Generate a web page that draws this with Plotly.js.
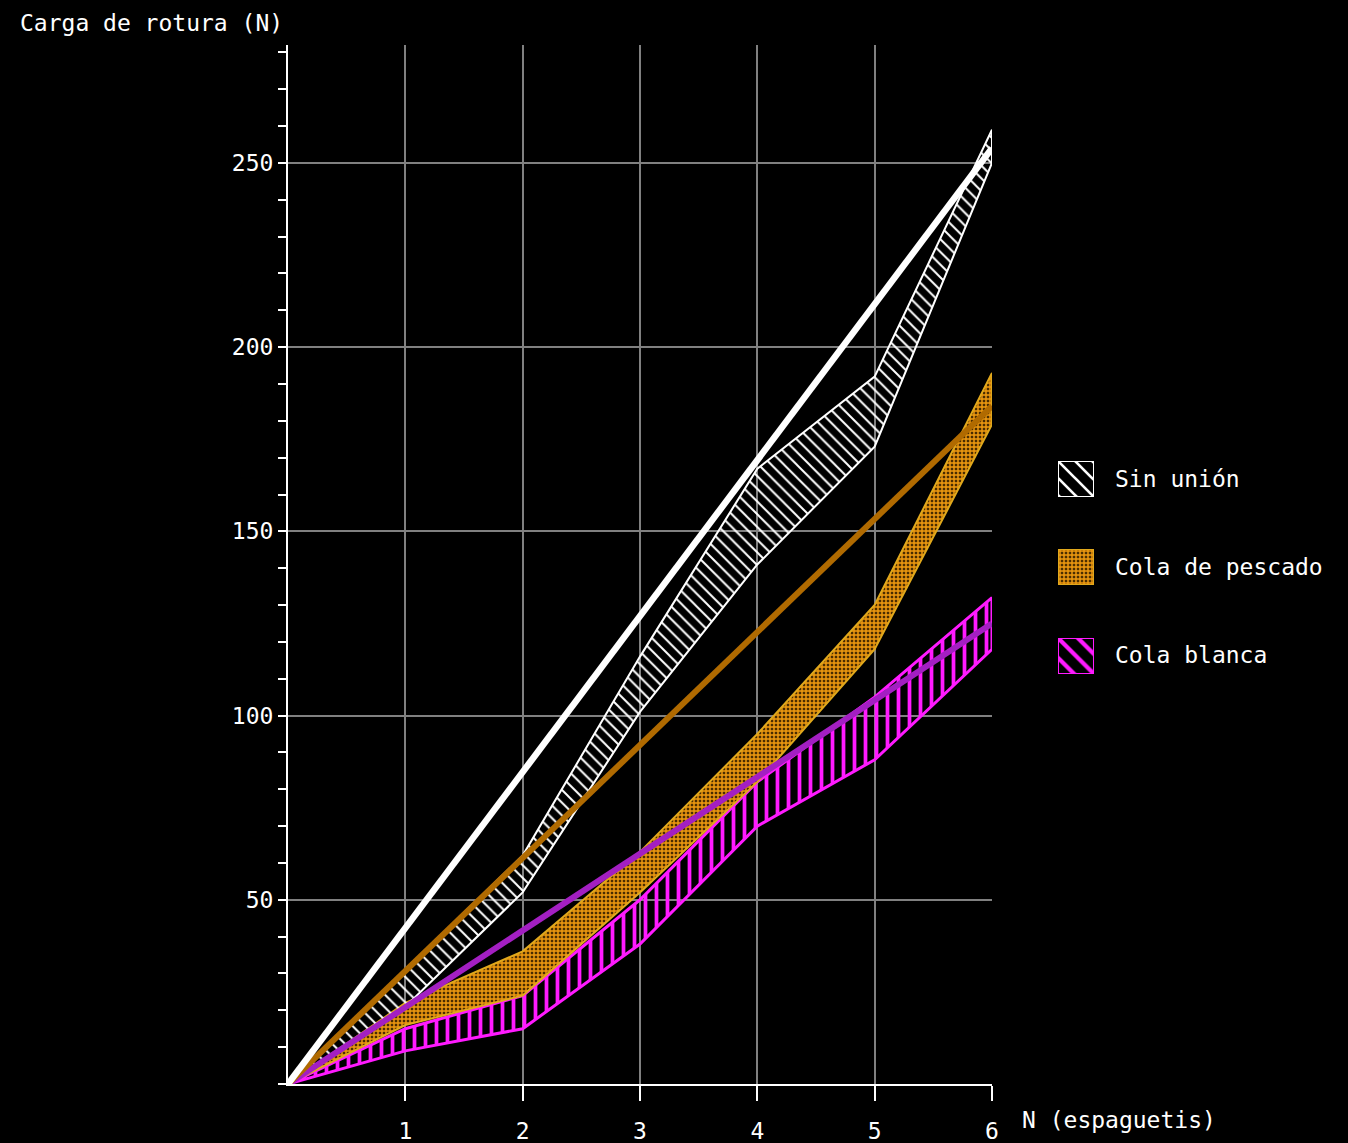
<!DOCTYPE html>
<html>
<head>
<meta charset="utf-8">
<script src="https://cdn.plot.ly/plotly-3.0.1.min.js"></script>
<style>html,body{margin:0;padding:0;background:#000;}#chart{width:1348px;height:1143px;}</style>
</head>
<body>
<div id="chart"></div>
<script>
// ---- data ----
const nEspaguetis = [0, 1, 2, 3, 4, 5, 6];
const sinUnionUpper = [0, 31, 62, 116, 167, 192, 259];
const sinUnionLower = [0, 21, 52, 101, 141, 173, 250];
const pescadoUpper  = [0, 22, 36, 63, 95, 130, 193];
const pescadoLower  = [0, 16, 24, 52, 82, 118, 179];
const blancaUpper   = [0, 15, 24, 50, 82, 105, 132];
const blancaLower   = [0, 9, 15, 38, 70, 88, 118];
const fitX = [0, 6];
const sinUnionFit = [0, 254];
const pescadoFit  = [0, 184];
const blancaFit   = [0, 125];
const xTicks = [1, 2, 3, 4, 5, 6];
const yTicks = [50, 100, 150, 200, 250];
const seriesNames = ['Sin unión', 'Cola de pescado', 'Cola blanca'];

const FONT = 'DejaVu Sans Mono, monospace';

const styles = [
  {edge: '#ffffff', width: 2, pattern: {shape: '\\', fgcolor: '#ffffff', bgcolor: 'rgba(0,0,0,0)', size: 9, solidity: 0.22}},
  {edge: '#e0a81c', width: 2, pattern: {shape: '+', fgcolor: '#f09a10', bgcolor: '#4a2c00', size: 4, solidity: 0.6}},
  {edge: '#ff1aff', width: 3, pattern: {shape: '|', fgcolor: '#ff1aff', bgcolor: 'rgba(0,0,0,0)', size: 11, solidity: 0.34}}
];

function band(upper, lower, st, name) {
  return {
    x: nEspaguetis.concat(nEspaguetis.slice().reverse()),
    y: upper.concat(lower.slice().reverse()),
    type: 'scatter', mode: 'lines', fill: 'toself',
    fillcolor: 'rgba(0,0,0,0)',
    fillpattern: st.pattern,
    line: {color: st.edge, width: st.width},
    name: name, showlegend: false, hoverinfo: 'skip',
    xaxis: 'x', yaxis: 'y'
  };
}

const traces = [
  band(blancaUpper, blancaLower, styles[2], seriesNames[2]),
  band(pescadoUpper, pescadoLower, styles[1], seriesNames[1]),
  band(sinUnionUpper, sinUnionLower, styles[0], seriesNames[0]),
  {x: fitX, y: blancaFit, type: 'scatter', mode: 'lines', line: {color: '#a31fc2', width: 6}, showlegend: false},
  {x: fitX, y: pescadoFit, type: 'scatter', mode: 'lines', line: {color: '#b06a00', width: 6}, showlegend: false},
  {x: fitX, y: sinUnionFit, type: 'scatter', mode: 'lines', line: {color: '#ffffff', width: 6.5}, showlegend: false}
];

// legend keys (drawn in their own small axes)
const keyDomainsY = [[0.5650, 0.5996], [0.4803, 0.5149], [0.3946, 0.4293]];
const keyLabelY = [0.5823, 0.4976, 0.4129];
const keyPatterns = [
  {size: 12},
  {},
  {shape: '\\', size: 14, solidity: 0.3}
];
const layoutAxes = {};
const annotations = [];
for (let i = 0; i < 3; i++) {
  const k = i + 2;
  traces.push({
    x: [0, 1, 1, 0, 0], y: [0, 0, 1, 1, 0],
    type: 'scatter', mode: 'lines', fill: 'toself',
    fillcolor: 'rgba(0,0,0,0)', fillpattern: Object.assign({}, styles[i].pattern, keyPatterns[i]),
    line: {color: styles[i].edge, width: 2},
    xaxis: 'x' + k, yaxis: 'y' + k, showlegend: false, hoverinfo: 'skip'
  });
  layoutAxes['xaxis' + k] = {domain: [0.7404, 0.775], range: [0, 1], visible: false, fixedrange: true, anchor: 'y' + k};
  layoutAxes['yaxis' + k] = {domain: keyDomainsY[i], range: [0, 1], visible: false, fixedrange: true, anchor: 'x' + k};
  annotations.push({
    text: seriesNames[i], xref: 'paper', yref: 'paper', x: 0.7933, y: keyLabelY[i],
    xanchor: 'left', yanchor: 'middle', showarrow: false,
    font: {family: FONT, size: 23, color: '#ffffff'}
  });
}
annotations.push({
  text: 'Carga de rotura (N)', xref: 'paper', yref: 'paper', x: -0.2596, y: 1.0212,
  xanchor: 'left', yanchor: 'middle', showarrow: false,
  font: {family: FONT, size: 23, color: '#ffffff'}
});
annotations.push({
  text: 'N (espaguetis)', xref: 'paper', yref: 'paper', x: 0.7038, y: -0.0346,
  xanchor: 'left', yanchor: 'middle', showarrow: false,
  font: {family: FONT, size: 23, color: '#ffffff'}
});

const layout = Object.assign({
  width: 1348, height: 1143,
  paper_bgcolor: '#000000', plot_bgcolor: '#000000',
  margin: {l: 288, r: 20, t: 45, b: 59},
  showlegend: false,
  font: {family: FONT, color: '#ffffff', size: 23},
  xaxis: {
    domain: [0, 0.6769], range: [0, 6], tickvals: xTicks,
    showgrid: true, gridcolor: '#808080', gridwidth: 2,
    showline: true, linecolor: '#ffffff', linewidth: 2,
    ticks: 'outside', ticklen: 15, tickwidth: 2, tickcolor: '#ffffff',
    ticklabelstandoff: 10,
    tickfont: {family: FONT, size: 23, color: '#ffffff'},
    zeroline: false, fixedrange: true
  },
  yaxis: {
    range: [0, 282], tickvals: yTicks,
    showgrid: true, gridcolor: '#808080', gridwidth: 2,
    showline: true, linecolor: '#ffffff', linewidth: 2,
    ticks: 'outside', ticklen: 8, tickwidth: 2, tickcolor: '#ffffff',
    minor: {dtick: 10, tick0: 0, ticks: 'outside', ticklen: 8, tickwidth: 2, tickcolor: '#ffffff', showgrid: false},
    tickfont: {family: FONT, size: 23, color: '#ffffff'},
    zeroline: false, fixedrange: true
  },
  annotations: annotations
}, layoutAxes);

Plotly.newPlot('chart', traces, layout, {displayModeBar: false, staticPlot: true});
</script>
</body>
</html>
